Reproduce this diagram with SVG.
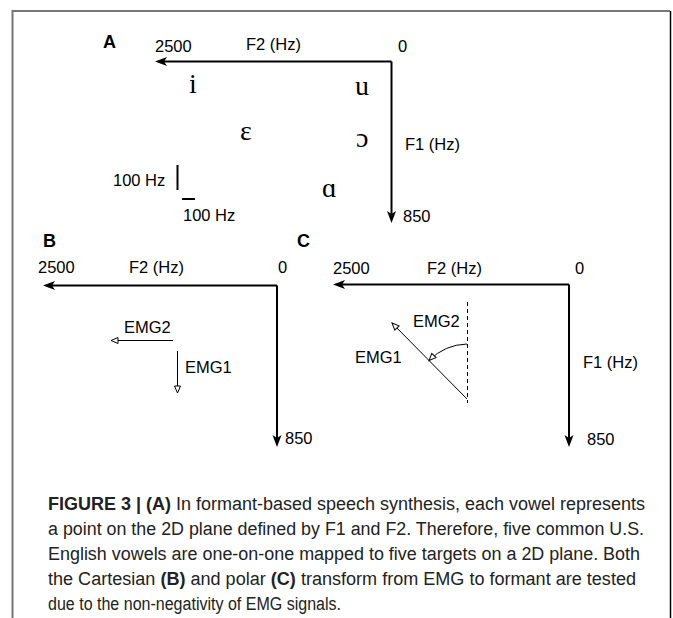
<svg xmlns="http://www.w3.org/2000/svg" width="673" height="618" viewBox="0 0 673 618">
<style>
.lbl{font-family:"Liberation Sans",Arial,sans-serif;font-size:16.5px;fill:#000}
.pl{font-family:"Liberation Sans",Arial,sans-serif;font-size:18px;font-weight:bold;fill:#000}
.vw{font-family:"Liberation Serif","DejaVu Serif",serif;font-size:28px;fill:#000}
.ax{stroke:#000;stroke-width:2;fill:none;marker-end:url(#ah)}
.emg{stroke:#000;stroke-width:1;fill:none;marker-end:url(#oh)}
.cap{font-family:"Liberation Sans",Arial,sans-serif;font-size:18px;fill:#222}
.b{font-weight:bold}
</style>
<defs>
<marker id="ah" markerUnits="userSpaceOnUse" markerWidth="14" markerHeight="12" viewBox="0 -6 14 12" refX="4" refY="0" orient="auto">
<path d="M0,-4.5 L12,0 L0,4.5 L3,0 Z" fill="#000"/>
</marker>
<marker id="oh" markerUnits="userSpaceOnUse" markerWidth="10" markerHeight="10" viewBox="-1 -5 10 10" refX="7" refY="0" orient="auto">
<path d="M0,-3 L7,0 L0,3 Z" fill="#fff" stroke="#000" stroke-width="1"/>
</marker>
</defs>
<g id="frame">
<line x1="12" y1="11" x2="670" y2="11" stroke="#777" stroke-width="2"/>
<line x1="12.5" y1="10" x2="12.5" y2="618" stroke="#777" stroke-width="2"/>
<line x1="670.5" y1="11" x2="670.5" y2="618" stroke="#000" stroke-width="1.5"/>
</g>
<g id="connectors">
<line class="ax" x1="391.5" y1="61.5" x2="163" y2="61.5"/>
<line class="ax" x1="391.5" y1="61.5" x2="391.5" y2="215"/>
<line class="ax" x1="277" y1="285.5" x2="51" y2="285.5"/>
<line class="ax" x1="277" y1="285.5" x2="277" y2="439"/>
<line class="ax" x1="569" y1="284.5" x2="341" y2="284.5"/>
<line class="ax" x1="569" y1="284.5" x2="569" y2="439"/>
<line x1="177.5" y1="165" x2="177.5" y2="190" stroke="#000" stroke-width="2"/>
<line x1="182" y1="199" x2="195" y2="199" stroke="#000" stroke-width="2"/>
<line class="emg" x1="173" y1="340.5" x2="111" y2="340.5"/>
<line class="emg" x1="177.5" y1="351" x2="177.5" y2="393"/>
<line x1="467.5" y1="302" x2="467.5" y2="403" stroke="#000" stroke-width="1" stroke-dasharray="4,3"/>
<line class="emg" x1="467" y1="399" x2="392" y2="323"/>
<path class="emg" d="M467,344 A56,56 0 0 0 429,360.5"/>
</g>
<g id="panelA">
<text class="pl" x="103" y="48">A</text>
<text class="lbl" x="155" y="52">2500</text>
<text class="lbl" x="246" y="50">F2 (Hz)</text>
<text class="lbl" x="398" y="52">0</text>
<text class="lbl" x="405" y="150">F1 (Hz)</text>
<text class="lbl" x="403" y="222">850</text>
<text class="lbl" x="113" y="186">100 Hz</text>
<text class="lbl" x="183" y="221">100 Hz</text>
<text class="vw" x="189" y="93">i</text>
<text class="vw" x="355" y="95">u</text>
<text class="vw" x="240" y="140">ε</text>
<text class="vw" x="356" y="147">ɔ</text>
<text class="vw" x="322" y="197">ɑ</text>
</g>
<g id="panelB">
<text class="pl" x="43" y="247">B</text>
<text class="lbl" x="38" y="273">2500</text>
<text class="lbl" x="129" y="273">F2 (Hz)</text>
<text class="lbl" x="278" y="273">0</text>
<text class="lbl" x="285" y="444">850</text>
<text class="lbl" x="124" y="333">EMG2</text>
<text class="lbl" x="185" y="373">EMG1</text>
</g>
<g id="panelC">
<text class="pl" x="297" y="247">C</text>
<text class="lbl" x="333" y="274">2500</text>
<text class="lbl" x="427" y="274">F2 (Hz)</text>
<text class="lbl" x="575" y="274">0</text>
<text class="lbl" x="583" y="368">F1 (Hz)</text>
<text class="lbl" x="587" y="445">850</text>
<text class="lbl" x="413" y="327">EMG2</text>
<text class="lbl" x="355" y="363">EMG1</text>
</g>
<g id="caption">
<text class="cap" x="48" y="510" textLength="597" lengthAdjust="spacingAndGlyphs"><tspan class="b">FIGURE 3 | (A)</tspan> In formant-based speech synthesis, each vowel represents</text>
<text class="cap" x="48" y="535" textLength="596" lengthAdjust="spacingAndGlyphs">a point on the 2D plane defined by F1 and F2. Therefore, five common U.S.</text>
<text class="cap" x="48" y="560" textLength="592" lengthAdjust="spacingAndGlyphs">English vowels are one-on-one mapped to five targets on a 2D plane. Both</text>
<text class="cap" x="48" y="585" textLength="588" lengthAdjust="spacingAndGlyphs">the Cartesian <tspan class="b">(B)</tspan> and polar <tspan class="b">(C)</tspan> transform from EMG to formant are tested</text>
<text class="cap" x="48" y="610" textLength="293" lengthAdjust="spacingAndGlyphs">due to the non-negativity of EMG signals.</text>
</g>
</svg>
